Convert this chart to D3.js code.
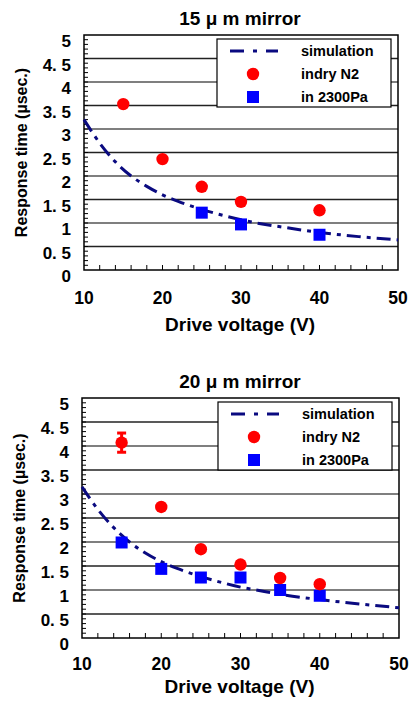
<!DOCTYPE html>
<html>
<head>
<meta charset="utf-8">
<script src="https://cdn.jsdelivr.net/npm/d3@7"></script>
<style>
  body { margin: 0; background: #fff; }
  svg { display: block; font-family: "Liberation Sans", Arial, sans-serif; font-weight: bold; }
</style>
</head>
<body>
<svg id="chart" width="411" height="701"></svg>
<script>
// data
const yTicks = [0, 0.5, 1, 1.5, 2, 2.5, 3, 3.5, 4, 4.5, 5];
const xTicks = [10, 20, 30, 40, 50];
const legendNames = ["simulation", "indry N2", "in 2300Pa"];

// 15 um mirror
const simV15 = [10, 12, 14, 16, 18, 20, 22, 25, 28, 30, 32, 35, 40, 45, 50];
const simT15 = [3.2, 2.7, 2.3, 2.0, 1.78, 1.6, 1.46, 1.29, 1.15, 1.07, 1.0, 0.92, 0.8, 0.71, 0.64];
const n2V15 = [15, 20, 25, 30, 40];
const n2T15 = [3.53, 2.36, 1.77, 1.45, 1.27];
const paV15 = [25, 30, 40];
const paT15 = [1.22, 0.97, 0.75];

// 20 um mirror
const simV20 = [10, 12, 14, 16, 18, 20, 22, 25, 28, 30, 32, 35, 40, 45, 50];
const simT20 = [3.15, 2.68, 2.3, 2.0, 1.77, 1.59, 1.45, 1.28, 1.14, 1.06, 1.0, 0.91, 0.8, 0.71, 0.63];
const n2V20 = [15, 20, 25, 30, 35, 40];
const n2T20 = [4.07, 2.73, 1.85, 1.53, 1.25, 1.12];
const n2Err20 = [0.2, 0, 0, 0.05, 0, 0];
const paV20 = [15, 20, 25, 30, 35, 40];
const paT20 = [1.99, 1.44, 1.26, 1.26, 1.0, 0.88];

const svg = d3.select("#chart");

function drawPanel(o) {
  const g = svg.append("g");
  const x = d3.scaleLinear().domain([10, 50]).range([o.left, o.right]);
  const y = d3.scaleLinear().domain([0, 5]).range([o.bottom, o.top]);

  // gridlines
  g.append("g").selectAll("line")
    .data(yTicks.filter(d => d > 0 && d < 5))
    .enter().append("line")
    .attr("x1", o.left).attr("x2", o.right)
    .attr("y1", d => y(d)).attr("y2", d => y(d))
    .attr("stroke", (d, i) => i % 2 ? "#555" : "#222")
    .attr("stroke-width", 1.3);

  // minor y ticks (inside)
  g.append("g").selectAll("line")
    .data(d3.range(1, 50).map(d => d / 10))
    .enter().append("line")
    .attr("x1", o.left).attr("x2", o.left + 4)
    .attr("y1", d => y(d)).attr("y2", d => y(d))
    .attr("stroke", "#000").attr("stroke-width", 1);

  // x ticks every 2 V (inside, up)
  g.append("g").selectAll("line")
    .data(d3.range(12, 50, 2))
    .enter().append("line")
    .attr("x1", d => x(d)).attr("x2", d => x(d))
    .attr("y1", o.bottom).attr("y2", o.bottom - 5)
    .attr("stroke", "#000").attr("stroke-width", 1);

  // frame
  g.append("rect")
    .attr("x", o.left).attr("y", o.top)
    .attr("width", o.right - o.left).attr("height", o.bottom - o.top)
    .attr("fill", "none").attr("stroke", "#000").attr("stroke-width", 1.5);

  // tick labels (sit a little below their ticks, as in the original)
  g.append("g").selectAll("text")
    .data(yTicks)
    .enter().append("text")
    .attr("x", o.left - 13).attr("y", d => y(d) + 12)
    .attr("text-anchor", "end")
    .attr("font-size", 17)
    .text(d => d % 1 ? d.toFixed(1).replace(".", ". ") : d);

  g.append("g").selectAll("text")
    .data(xTicks)
    .enter().append("text")
    .attr("x", d => x(d)).attr("y", o.bottom + o.xLabelGap)
    .attr("text-anchor", "middle")
    .attr("font-size", 17.5)
    .text(d => d);

  // axis titles
  g.append("text")
    .attr("x", (o.left + o.right) / 2 - 1).attr("y", o.bottom + o.xTitleGap)
    .attr("text-anchor", "middle").attr("font-size", 19)
    .text("Drive voltage (V)");
  g.append("text")
    .attr("transform", `translate(${o.left - 57},${(o.top + o.bottom) / 2}) rotate(-90)`)
    .attr("text-anchor", "middle").attr("font-size", 16)
    .text("Response time (µsec.)");

  // title
  g.append("text")
    .attr("x", 240).attr("y", o.top - 10)
    .attr("text-anchor", "middle").attr("font-size", 19)
    .text(o.title);

  // simulation curve
  const line = d3.line().curve(d3.curveMonotoneX).x(d => x(d[0])).y(d => y(d[1]));
  g.append("path")
    .datum(d3.zip(o.simV, o.simT))
    .attr("d", line)
    .attr("fill", "none").attr("stroke", "#0a0a80")
    .attr("stroke-width", 3)
    .attr("stroke-dasharray", "14,6,4,6");

  // error bars on N2
  if (o.n2Err) {
    const eb = d3.zip(o.n2V, o.n2T, o.n2Err).filter(d => d[2] > 0);
    const e = g.append("g").attr("fill", "#ff0000");
    e.selectAll(".cap").data(eb.flatMap(d => [[d[0], d[1] + d[2]], [d[0], d[1] - d[2]]]))
      .enter().append("rect")
      .attr("x", d => x(d[0]) - 4.5).attr("y", d => y(d[1]) - 1.5)
      .attr("width", 9).attr("height", 3);
    e.selectAll(".bar").data(eb)
      .enter().append("rect")
      .attr("x", d => x(d[0]) - 1.5).attr("y", d => y(d[1] + d[2]))
      .attr("width", 3).attr("height", d => y(d[1] - d[2]) - y(d[1] + d[2]));
  }

  // 2300Pa squares
  g.append("g").selectAll("rect")
    .data(d3.zip(o.paV, o.paT))
    .enter().append("rect")
    .attr("x", d => x(d[0]) - 6).attr("y", d => y(d[1]) - 6)
    .attr("width", 12).attr("height", 12)
    .attr("fill", "#0000ff");

  // N2 circles
  g.append("g").selectAll("circle")
    .data(d3.zip(o.n2V, o.n2T))
    .enter().append("circle")
    .attr("cx", d => x(d[0])).attr("cy", d => y(d[1]))
    .attr("r", 6.2)
    .attr("fill", "#ff0000");

  // legend
  const lx = o.right - 181, ly = o.top + 4;
  const lg = g.append("g");
  lg.append("rect")
    .attr("x", lx).attr("y", ly).attr("width", 174).attr("height", 68)
    .attr("fill", "#fff").attr("stroke", "#000").attr("stroke-width", 1.2);
  const rows = legendNames.map((n, i) => ({ name: n, cy: ly + 12 + i * 23 }));
  lg.selectAll("text").data(rows).enter().append("text")
    .attr("x", lx + 84).attr("y", d => d.cy + 5)
    .attr("font-size", 14.5)
    .text(d => d.name);
  lg.append("line")
    .attr("x1", lx + 13).attr("x2", lx + 61)
    .attr("y1", rows[0].cy).attr("y2", rows[0].cy)
    .attr("stroke", "#0a0a80").attr("stroke-width", 3)
    .attr("stroke-dasharray", "14,9,4,9");
  lg.append("circle")
    .attr("cx", lx + 36).attr("cy", rows[1].cy).attr("r", 6.2).attr("fill", "#ff0000");
  lg.append("rect")
    .attr("x", lx + 30).attr("y", rows[2].cy - 6).attr("width", 12).attr("height", 12)
    .attr("fill", "#0000ff");
}

drawPanel({
  title: "15 μ m mirror", left: 84, right: 398, top: 35, bottom: 270,
  xLabelGap: 34, xTitleGap: 61,
  simV: simV15, simT: simT15, n2V: n2V15, n2T: n2T15, paV: paV15, paT: paT15
});
drawPanel({
  title: "20 μ m mirror", left: 82, right: 399, top: 398, bottom: 638,
  xLabelGap: 32, xTitleGap: 55,
  simV: simV20, simT: simT20, n2V: n2V20, n2T: n2T20, n2Err: n2Err20, paV: paV20, paT: paT20
});
</script>
</body>
</html>
